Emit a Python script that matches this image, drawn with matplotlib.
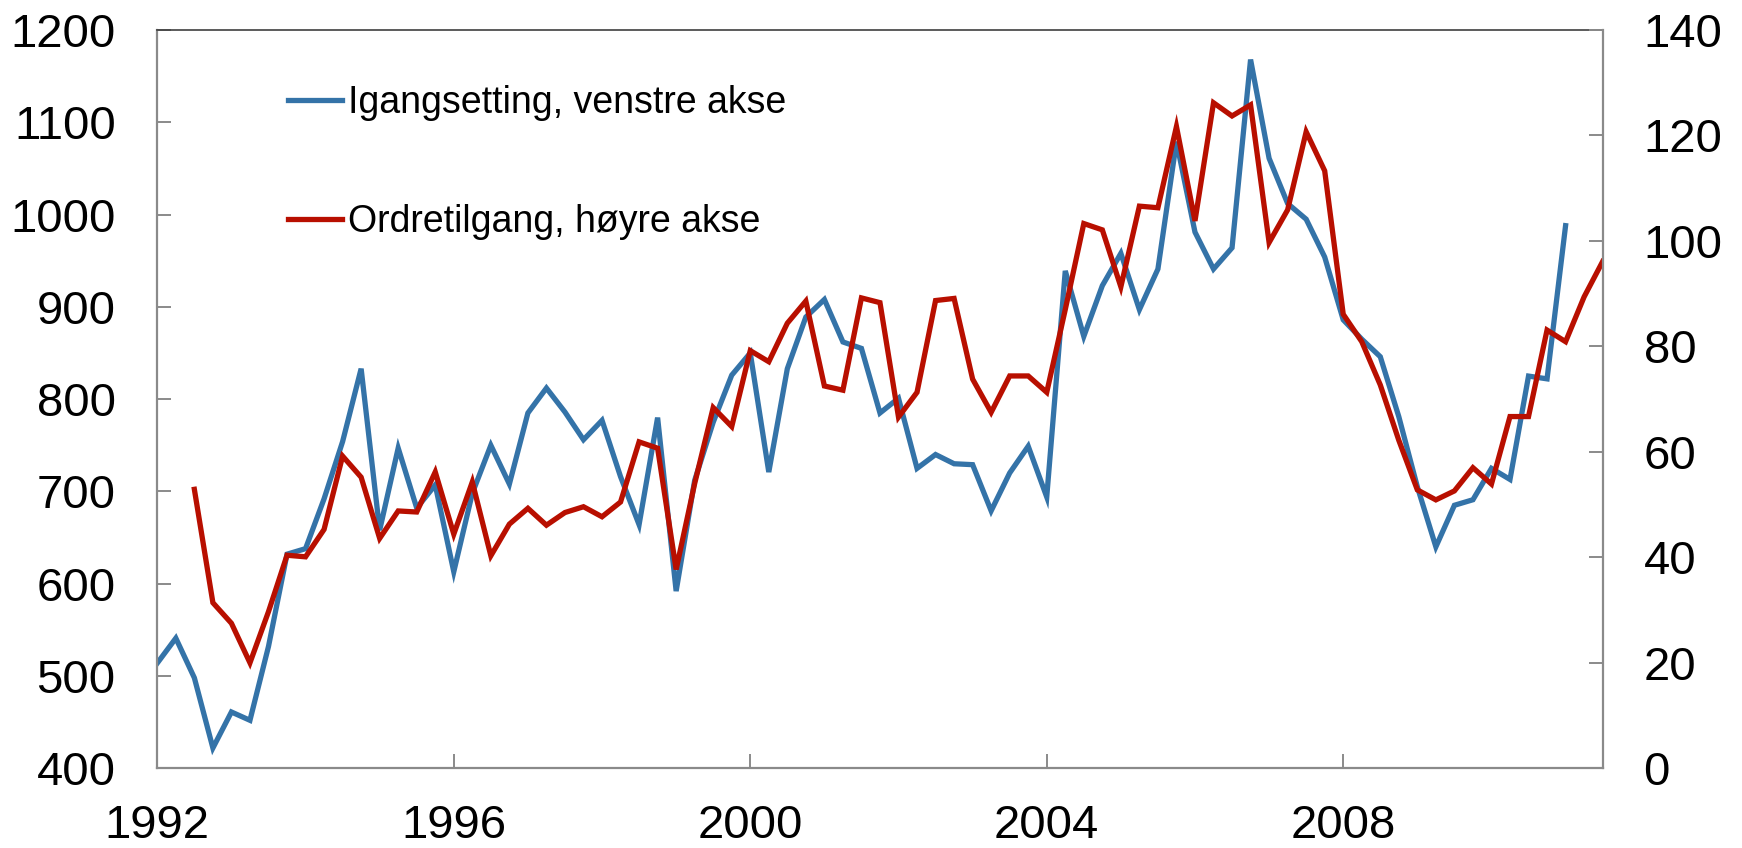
"""
Igangsetting og ordretilgang, kvartalstall 1992-2011
Blue series on the left axis, red series on the right axis.
"""

import matplotlib
matplotlib.use("Agg")
import matplotlib.pyplot as plt
import numpy as np

plt.rcParams["font.family"] = ["Liberation Sans", "DejaVu Sans"]

# Quarterly data, first quarter 1992 = index 0
START_YEAR = 1992

# Igangsetting (left axis), 1992Q1 - 2011Q1
igangsetting = [
    514, 541, 498, 422, 461, 452, 532, 632, 638, 692,
    754, 833, 658, 747, 682, 707, 613, 698, 750, 708,
    785, 812, 786, 756, 777, 716, 664, 780, 592, 712,
    775, 826, 850, 721, 833, 889, 908, 862, 855, 785,
    801, 725, 740, 730, 729, 679, 720, 749, 694, 939,
    868, 923, 958, 897, 941, 1079, 981, 941, 964, 1168,
    1061, 1012, 995, 954, 886, 865, 846, 781, 705, 640,
    685, 691, 725, 713, 825, 822, 988,
]

# Ordretilgang (right axis), 1992Q3 - 2011Q3
ordretilgang = [
    52.9, 31.4, 27.5, 20.0, 29.7, 40.4, 40.1, 45.3, 59.2, 55.2,
    43.6, 48.8, 48.6, 56.2, 44.4, 54.3, 40.3, 46.3, 49.3, 46.1,
    48.5, 49.6, 47.7, 50.5, 61.9, 60.7, 37.7, 54.0, 68.4, 64.8,
    79.2, 77.1, 84.4, 88.6, 72.5, 71.7, 89.2, 88.3, 66.6, 71.3,
    88.7, 89.1, 73.8, 67.5, 74.4, 74.4, 71.3, 87.0, 103.3, 102.1,
    91.3, 106.6, 106.3, 121.7, 103.8, 126.2, 123.7, 125.8, 99.7, 105.9,
    120.7, 113.3, 86.1, 80.9, 72.7, 62.2, 52.8, 50.9, 52.6, 57.0,
    53.9, 66.7, 66.7, 83.1, 80.9, 89.4, 96.1,
]
ORDRE_START_Q = 2  # red series starts two quarters later

year_ticks = [1992, 1996, 2000, 2004, 2008]
left_ticks = [400, 500, 600, 700, 800, 900, 1000, 1100, 1200]
right_ticks = [0, 20, 40, 60, 80, 100, 120, 140]

LABEL_BLUE = "Igangsetting, venstre akse"
LABEL_RED = "Ordretilgang, høyre akse"

BLUE = "#3473A8"
RED = "#B80F00"
AXIS_GREY = "#8A8A8A"


def quarter_years(n, offset=0):
    return START_YEAR + (np.arange(n) + offset) / 4.0


def main():
    fig = plt.figure(figsize=(17.42, 8.48), dpi=100)
    ax = fig.add_axes([0.0903, 0.094, 0.8297, 0.8706])
    ax2 = ax.twinx()

    x_blue = quarter_years(len(igangsetting))
    x_red = quarter_years(len(ordretilgang), ORDRE_START_Q)

    (l1,) = ax.plot(x_blue, igangsetting, color=BLUE, lw=3.8,
                    solid_joinstyle="miter", label=LABEL_BLUE)
    (l2,) = ax2.plot(x_red, ordretilgang, color=RED, lw=3.8,
                     solid_joinstyle="miter", label=LABEL_RED)

    ax.set_xlim(START_YEAR, START_YEAR + 78 / 4.0)
    ax.set_ylim(400, 1200)
    ax2.set_ylim(0, 140)
    ax.set_xticks(year_ticks)
    ax.set_xticklabels([str(y) for y in year_ticks])
    ax.set_yticks(left_ticks)
    ax2.set_yticks(right_ticks)

    ax.tick_params(axis="y", direction="in", length=10, width=1.4,
                   color=AXIS_GREY, labelsize=34, pad=30)
    ax.tick_params(axis="x", direction="in", length=10, width=1.4,
                   color=AXIS_GREY, labelsize=34, pad=25.5)
    ax2.tick_params(axis="y", direction="in", length=10, width=1.4,
                    color=AXIS_GREY, labelsize=34, pad=29.5)

    for name in ["left", "bottom"]:
        ax.spines[name].set_color(AXIS_GREY)
        ax.spines[name].set_linewidth(1.6)
    ax.spines["right"].set_visible(False)
    ax.spines["top"].set_color("#404040")
    ax.spines["top"].set_linewidth(1.2)
    for name in ["left", "bottom", "top"]:
        ax2.spines[name].set_visible(False)
    ax2.spines["right"].set_color(AXIS_GREY)
    ax2.spines["right"].set_linewidth(1.6)

    ax2.legend(
        handles=[l1, l2],
        loc="upper left",
        bbox_to_anchor=(0.0904, 0.926),
        frameon=False,
        fontsize=27,
        handlelength=1.45,
        handletextpad=0.15,
        labelspacing=2.22,
        borderpad=0,
        borderaxespad=0,
    )

    fig.savefig("out.png", dpi=100)
    plt.close(fig)


if __name__ == "__main__":
    main()
